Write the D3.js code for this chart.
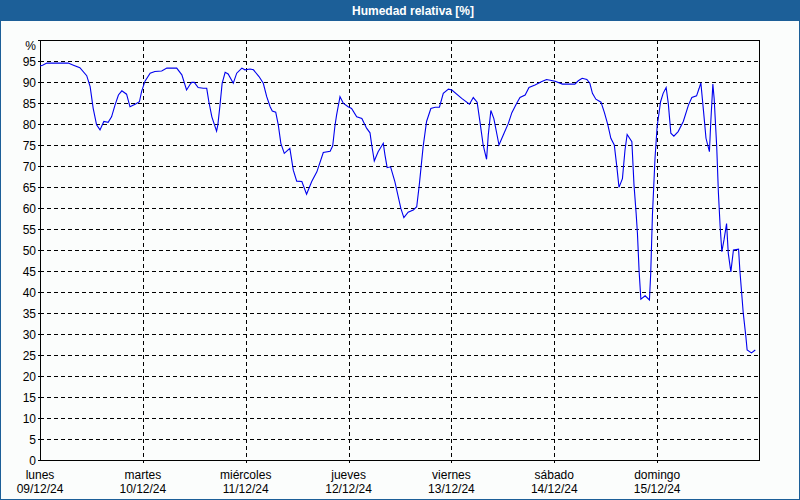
<!DOCTYPE html>
<html><head><meta charset="utf-8">
<script src="https://cdn.jsdelivr.net/npm/d3@7"></script>
<style>
html,body{margin:0;padding:0;background:#fff;}
svg{display:block;}
text{font-family:"Liberation Sans",Arial,sans-serif;}
</style></head><body>
<svg id="c" width="800" height="500"></svg>
<script>
// Hours since lunes 09/12/24 00:00
const hours = [0,0.6,1.6,6.6,7.8,9.3,10.9,11.7,12.4,13.2,14.0,14.9,15.9,16.7,17.5,18.3,19.1,20.2,21.0,22.2,23.2,23.7,24.5,25.7,26.8,28.4,29.6,31.9,33.1,34.2,35.0,35.4,36.0,36.9,38.1,38.9,39.4,40.1,41.2,41.5,42.0,42.5,43.2,43.9,45.1,45.9,47.1,47.8,49.0,49.8,51.1,52.1,52.9,53.7,54.2,55.0,55.6,56.2,57.0,58.3,59.1,59.9,61.1,62.2,63.4,64.6,66.1,67.7,68.3,68.8,69.2,70.0,70.8,71.9,72.7,73.9,75.1,76.2,77.0,77.4,78.0,78.9,80.1,80.5,81.0,81.8,82.8,84.2,84.9,85.9,87.1,87.9,88.5,89.4,90.2,91.2,92.2,93.2,94.1,95.3,96.1,98.4,100.2,101.1,102.0,102.7,103.4,104.2,104.6,105.2,105.9,107.1,108.1,109.3,110.1,111.2,112.0,113.2,114.1,115.5,117.1,118.2,120.2,121.9,124.8,125.6,126.5,127.6,128.3,128.9,129.7,130.9,131.7,132.5,133.2,134.0,134.6,135.1,135.9,136.5,137.0,138.1,138.6,139.1,139.4,139.8,140.2,141.2,142.2,142.5,142.9,143.5,144.0,144.8,145.4,146.1,146.6,147.2,147.9,148.9,150.1,151.3,152.1,153.2,153.8,154.2,154.8,155.4,156.2,156.5,157.0,157.3,157.9,158.3,158.7,159.1,159.6,160.2,160.6,161.2,161.8,163.0,163.3,164.1,164.7,165.0,166.0,166.9];
const humidity = [93.8,94.0,94.5,94.5,94.0,93.4,91.5,88.9,83.8,79.8,78.6,80.6,80.4,81.7,84.5,86.9,87.9,87.1,84.1,84.7,85.3,87.7,90.2,92.1,92.5,92.6,93.3,93.3,91.7,88.1,89.4,89.9,89.9,88.7,88.5,88.5,85.3,81.7,78.3,79.8,84.5,89.7,92.3,91.9,89.7,92.1,93.3,92.9,93.1,92.9,91.3,89.7,86.5,84.1,83.1,82.8,79.8,75.4,73.0,74.2,69.0,66.4,66.3,63.3,66.3,68.6,73.2,73.5,74.8,79.4,82.1,86.5,84.9,84.1,83.7,81.7,81.3,79.0,77.9,75.0,71.2,73.4,75.4,72.6,69.6,69.8,66.3,59.9,57.7,59.0,59.5,60.3,65.5,74.6,80.6,83.7,84.0,84.0,87.3,88.3,88.1,86.1,84.7,86.3,85.2,80.2,75.0,71.6,77.4,83.2,81.3,75.0,77.4,80.2,82.7,84.9,86.3,86.9,88.7,89.3,90.1,90.6,90.2,89.5,89.5,90.3,90.9,90.6,89.7,87.3,85.9,85.2,82.7,79.8,76.6,75.0,69.8,64.9,67.0,73.8,77.5,75.8,65.5,58.7,54.0,44.8,38.3,39.1,38.1,44.4,58.3,71.8,79.4,85.3,87.3,88.7,84.9,77.8,77.1,78.2,80.6,84.5,86.3,86.7,88.5,89.8,83.3,76.6,73.4,80.2,89.5,86.1,74.6,63.5,55.6,49.6,52.4,56.3,49.2,44.8,50.0,50.2,45.2,34.9,29.4,26.2,25.5,26.2];
const dayNames = ["lunes","martes","miércoles","jueves","viernes","sábado","domingo"];
const dayDates = ["09/12/24","10/12/24","11/12/24","12/12/24","13/12/24","14/12/24","15/12/24"];
const yTicks = [0,5,10,15,20,25,30,35,40,45,50,55,60,65,70,75,80,85,90,95,100];
const titleText = "Humedad relativa [%]";

const svg = d3.select("#c");
const W = 800, H = 500;
const m = {l:40, t:40, r:760, b:460};

svg.append("rect").attr("x",0).attr("y",0).attr("width",W).attr("height",H).attr("fill","#fbfdfc");
svg.append("rect").attr("x",0).attr("y",0).attr("width",W).attr("height",21).attr("fill","#1c5f98");
svg.append("rect").attr("x",0.5).attr("y",0.5).attr("width",W-1).attr("height",H-1).attr("fill","none").attr("stroke","#1c5f98");
svg.append("text").attr("x",413).attr("y",15).attr("text-anchor","middle").attr("fill","#fff")
  .attr("font-size",12).attr("font-weight","bold").text(titleText);

const x = d3.scaleLinear().domain([0, 168]).range([m.l, m.r]);
const y = d3.scaleLinear().domain([0, 100]).range([m.b, m.t]);

const g = svg.append("g");
// horizontal grid
g.selectAll("line.hg").data(yTicks.filter(v=>v>0 && v<100)).join("line")
  .attr("x1",m.l).attr("x2",m.r).attr("y1",d=>Math.round(y(d))+0.5).attr("y2",d=>Math.round(y(d))+0.5)
  .attr("stroke","#000").attr("stroke-dasharray","4,3").attr("stroke-width",1);
// vertical grid
const dayIdx = d3.range(dayNames.length);
g.selectAll("line.vg").data(dayIdx.slice(1)).join("line")
  .attr("x1",d=>Math.round(x(d*24))+0.5).attr("x2",d=>Math.round(x(d*24))+0.5)
  .attr("y1",m.t).attr("y2",m.b+3)
  .attr("stroke","#000").attr("stroke-dasharray","4,3").attr("stroke-width",1);
// y ticks
g.selectAll("line.yt").data(yTicks).join("line")
  .attr("x1",m.l-2).attr("x2",m.l).attr("y1",d=>Math.round(y(d))+0.5).attr("y2",d=>Math.round(y(d))+0.5)
  .attr("stroke","#000");
// frame
svg.append("rect").attr("x",m.l+0.5).attr("y",m.t+0.5).attr("width",m.r-m.l-1).attr("height",m.b-m.t)
  .attr("fill","none").attr("stroke","#000").attr("stroke-width",1);
// y labels
g.selectAll("text.yl").data(yTicks).join("text")
  .attr("x",36).attr("y",d=>y(d)+(d===100?10:4.5)).attr("text-anchor","end").attr("font-size",12).attr("fill","#000")
  .text(d=>d===100?"%":d);
// x labels
g.selectAll("text.xd").data(dayIdx).join("text")
  .attr("x",d=>x(d*24)).attr("y",479).attr("text-anchor","middle").attr("font-size",12).text(d=>dayNames[d]);
g.selectAll("text.xt").data(dayIdx).join("text")
  .attr("x",d=>x(d*24)).attr("y",493).attr("text-anchor","middle").attr("font-size",12).text(d=>dayDates[d]);

// line
const pts = hours.map((h,i)=>[h,humidity[i]]);
svg.append("path").datum(pts)
  .attr("d", d3.line().x(d=>x(d[0])).y(d=>y(d[1])))
  .attr("fill","none").attr("stroke","#0000ee").attr("stroke-width",1.1);
</script>
</body></html>
